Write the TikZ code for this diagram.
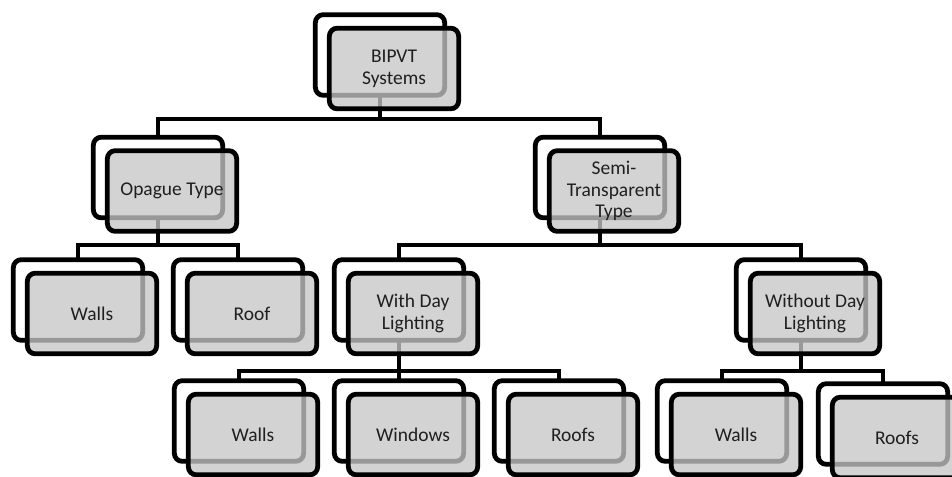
\documentclass[tikz,border=0pt]{standalone}
\usepackage{fontspec}
\setmainfont{Carlito}
\usetikzlibrary{backgrounds}

\tikzset{
  boxbase/.style={line width=3.6pt, rounded corners=6pt,
    minimum width=97pt, minimum height=60.5pt, inner sep=0pt},
  backbox/.style={boxbase, draw=black, fill=white},
  frontbox/.style={boxbase, draw=black,
    fill={rgb,255:red,198;green,198;blue,198}, fill opacity=0.77,
    draw opacity=1, text opacity=1, align=center,
    font=\fontsize{14.6}{16.3}\selectfont, text=black!88},
  conn/.style={line width=3.4pt, draw=black},
}

% a white outlined card with a translucent grey card laid over it
\newcommand\duobox[4]{%
  \node[backbox] (#1B) at (#2,#3) {};
  \node[frontbox] (#1F) at ({#2+14},{#3+13.5}) {#4};
}

\begin{document}
\begin{tikzpicture}[x=0.75pt, y=-0.75pt]
  \path[use as bounding box] (0,0) rectangle (952,476);

  % levels of the horizontal bus lines
  \coordinate (lvlA) at (0,119);
  \coordinate (lvlB) at (0,245);
  \coordinate (lvlC) at (0,371);

  \duobox{root}{380}{55}{BIPVT\\Systems}
  \duobox{opq}{158}{177.5}{Opague Type}
  \duobox{semi}{600}{177.5}{Semi-\\Transparent\\Type}
  \duobox{wallA}{78}{300}{Walls}
  \duobox{roofA}{238}{300}{Roof}
  \duobox{wday}{399}{300}{With Day\\Lighting}
  \duobox{nday}{801}{300}{Without Day\\Lighting}
  \duobox{wallB}{239}{421}{Walls}
  \duobox{wind}{399}{421}{Windows}
  \duobox{roofB}{559}{421}{Roofs}
  \duobox{wallC}{722}{421}{Walls}
  \duobox{roofC}{883}{424}{Roofs}

  \begin{scope}[on background layer]
    \draw[conn] (rootB.center) -- (rootB.center |- lvlA) -| (opqB.center);
    \draw[conn] (rootB.center) -- (rootB.center |- lvlA) -| (semiB.center);
    \draw[conn] (opqB.center) -- (opqB.center |- lvlB) -| (wallAB.center);
    \draw[conn] (opqB.center) -- (opqB.center |- lvlB) -| (roofAB.center);
    \draw[conn] (semiB.center) -- (semiB.center |- lvlB) -| (wdayB.center);
    \draw[conn] (semiB.center) -- (semiB.center |- lvlB) -| (ndayB.center);
    \draw[conn] (wdayB.center) -- (wdayB.center |- lvlC) -| (wallBB.center);
    \draw[conn] (wdayB.center) -- (wdayB.center |- lvlC) -| (windB.center);
    \draw[conn] (wdayB.center) -- (wdayB.center |- lvlC) -| (roofBB.center);
    \draw[conn] (ndayB.center) -- (ndayB.center |- lvlC) -| (wallCB.center);
    \draw[conn] (ndayB.center) -- (ndayB.center |- lvlC) -| (roofCB.center);
  \end{scope}
\end{tikzpicture}
\end{document}
